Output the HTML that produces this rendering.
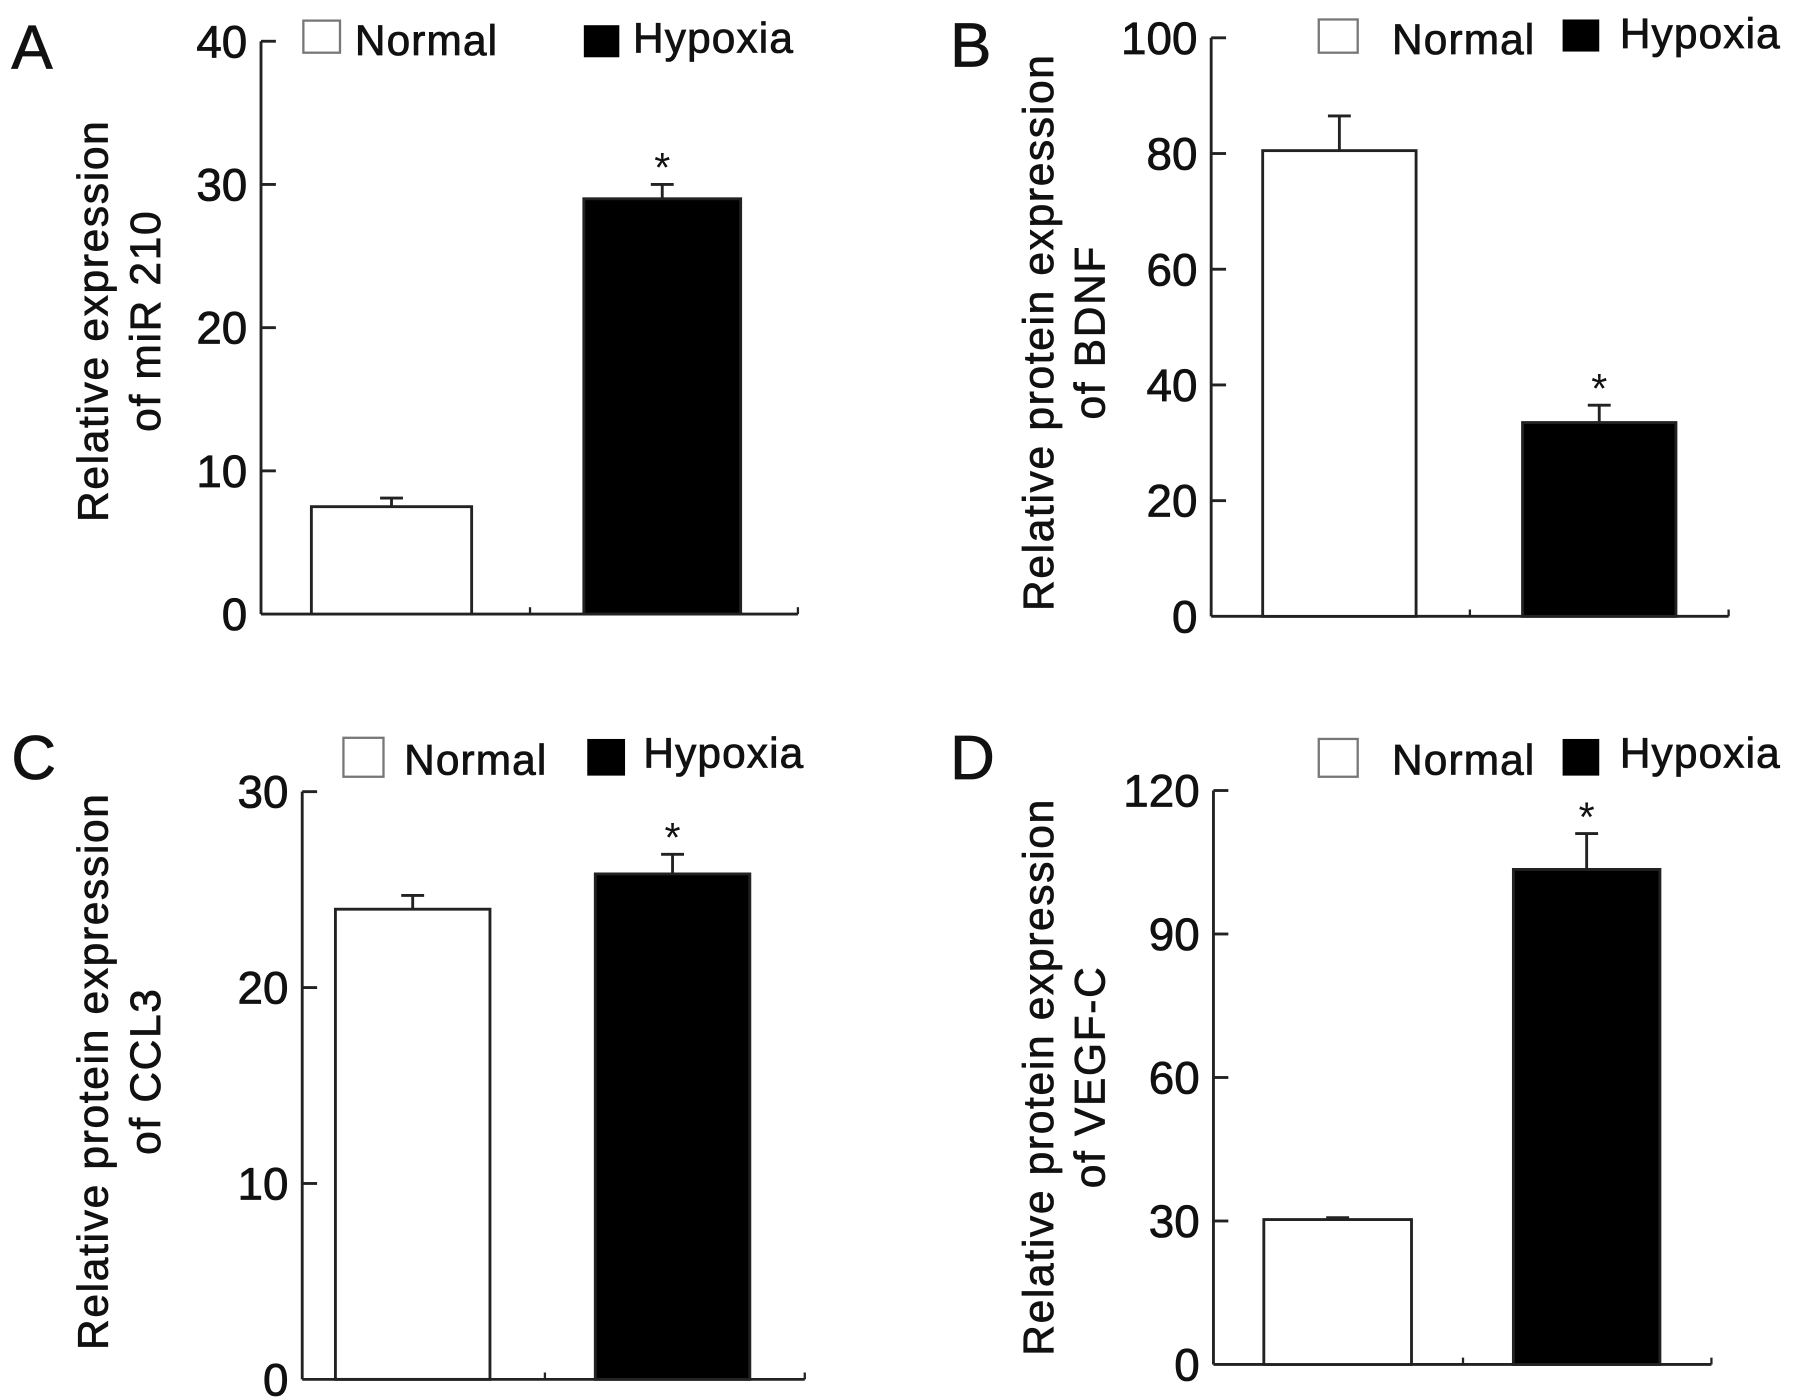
<!DOCTYPE html>
<html><head><meta charset="utf-8"><style>
html,body{margin:0;padding:0;background:#fff}
svg{display:block}
text{font-family:"Liberation Sans",Arial,sans-serif;fill:#111}
.th{stroke:#111;stroke-width:0.7px}
</style></head><body>
<svg id="fig" width="1795" height="1400" viewBox="0 0 1568 1222" preserveAspectRatio="none" xmlns="http://www.w3.org/2000/svg"></svg>
<script>
// Panel data
const groups = ["Normal", "Hypoxia"];
const valuesA = [7.5, 29];
const errorsA = [0.6, 1.0];
const ticksA = [0, 10, 20, 30, 40];
const valuesB = [80.5, 33.5];
const errorsB = [6, 3];
const ticksB = [0, 20, 40, 60, 80, 100];
const valuesC = [24, 25.8];
const errorsC = [0.7, 1.0];
const ticksC = [0, 10, 20, 30];
const valuesD = [30.3, 103.5];
const errorsD = [0.4, 7.5];
const ticksD = [0, 30, 60, 90, 120];
const sigA = [false, true], sigB = [false, true], sigC = [false, true], sigD = [false, true];

const NS = "http://www.w3.org/2000/svg";
const svg = document.getElementById("fig");
function mk(tag, attrs, parent, text) {
  const e = document.createElementNS(NS, tag);
  for (const k in attrs) e.setAttribute(k, attrs[k]);
  if (text !== undefined) e.textContent = text;
  (parent || svg).appendChild(e);
  return e;
}

const panels = [
  {id:"a", letter:"A", lx:10, ly:60, ax:228, x1:697, mid:463, top:36, bot:536, max:40, vals:valuesA, errs:errorsA, ticks:ticksA, sig:sigA,
   bars:[[272,412],[510,647]], t1x:84, t2x:130, tcy:280, title1:"Relative expression", title2:"of miR 210",
   leg:{wb:[265,18,32,28], nx:310, ny:48, bb:[510,22,31,28], hx:553, hy:46}},
  {id:"b", letter:"B", lx:830, ly:58, ax:1058, x1:1510, mid:1284, top:33, bot:538, max:100, vals:valuesB, errs:errorsB, ticks:ticksB, sig:sigB,
   bars:[[1103,1237],[1330,1464]], t1x:910, t2x:955, tcy:290, title1:"Relative  protein expression", title2:"of BDNF",
   leg:{wb:[1152,17,34,29], nx:1216, ny:47, bb:[1365,17,32,28], hx:1415, hy:42}},
  {id:"c", letter:"C", lx:10, ly:680, ax:264, x1:703, mid:476, top:691, bot:1204, max:30, vals:valuesC, errs:errorsC, ticks:ticksC, sig:sigC,
   bars:[[293,428],[520,655]], t1x:84, t2x:130, tcy:935, title1:"Relative  protein expression", title2:"of CCL3",
   leg:{wb:[300,644,35,34], nx:353, ny:676, bb:[513,645,33,32], hx:562, hy:670}},
  {id:"d", letter:"D", lx:830, ly:680, ax:1060, x1:1495, mid:1278, top:690, bot:1191, max:120, vals:valuesD, errs:errorsD, ticks:ticksD, sig:sigD,
   bars:[[1104,1233],[1322,1450]], t1x:910, t2x:955, tcy:940, title1:"Relative  protein expression", title2:"of VEGF-C",
   leg:{wb:[1152,645,34,33], nx:1216, ny:676, bb:[1365,645,32,32], hx:1415, hy:670}}
];

panels.forEach(p => {
  const g = mk("g", {});
  
  
  const y = v => p.bot - (v / p.max) * (p.bot - p.top);

  const L = mk("text", {x:p.lx, y:p.ly, "font-size":54, "class":"th"}, g, p.letter);
  
  

  const ya = mk("line", {x1:p.ax, y1:p.top, x2:p.ax, y2:p.bot, stroke:"#222", "stroke-width":2.5}, g);
  
  
  p.ticks.forEach(t => {
    const ty = y(t);
    if (t !== 0) {
      const tk = mk("line", {x1:p.ax, y1:ty, x2:p.ax + 13, y2:ty, stroke:"#222", "stroke-width":2.5}, g);
      
      
    }
    const tl = mk("text", {x:p.ax - 12, y:ty + 14, "font-size":40, "text-anchor":"end", "class":"th"}, g, String(t));
    
    
  });
  const xa = mk("line", {x1:p.ax, y1:p.bot, x2:p.x1, y2:p.bot, stroke:"#222", "stroke-width":2.5}, g);
  
  
  [p.mid, p.x1].forEach(xx => {
    const tk = mk("line", {x1:xx, y1:p.bot, x2:xx, y2:p.bot - 6, stroke:"#222", "stroke-width":2}, g);
    
    
  });

  p.vals.forEach((v, i) => {
    const [bx0, bx1] = p.bars[i];
    const cx = (bx0 + bx1) / 2;
    const top = y(v), et = y(v + p.errs[i]);
    const eb = mk("line", {x1:cx, y1:top, x2:cx, y2:et, stroke:"#222", "stroke-width":2.5}, g);
    
    
    const ec = mk("line", {x1:cx - 10, y1:et, x2:cx + 10, y2:et, stroke:"#222", "stroke-width":2.5}, g);
    
    
    const r = mk("rect", {x:bx0, y:top, width:bx1 - bx0, height:p.bot - top,
      fill: i === 0 ? "#fff" : "#000", stroke:"#222", "stroke-width":2.5}, g);
    
    
    if (p.sig[i]) {
      const s = mk("text", {x:cx, y:et - 2, "font-size":36, "text-anchor":"middle"}, g, "*");
      
      
    }
  });

  const tt = mk("text", {transform:`translate(${p.t1x},${p.tcy}) rotate(-90)`, "font-size":37, "letter-spacing":"1.5", "text-anchor":"middle", "dominant-baseline":"middle", "class":"th"}, g, p.title1);
  
  
  const tt2 = mk("text", {transform:`translate(${p.t2x},${p.tcy}) rotate(-90)`, "font-size":37, "letter-spacing":"1.5", "text-anchor":"middle", "dominant-baseline":"middle", "class":"th"}, g, p.title2);
  
  

  const lg = p.leg;
  const w = mk("rect", {x:lg.wb[0], y:lg.wb[1], width:lg.wb[2], height:lg.wb[3], fill:"#fff", stroke:"#777", "stroke-width":2}, g);
  
  
  const nt = mk("text", {x:lg.nx, y:lg.ny, "font-size":37, "letter-spacing":"1", "class":"th"}, g, "Normal");
  
  
  const b = mk("rect", {x:lg.bb[0], y:lg.bb[1], width:lg.bb[2], height:lg.bb[3], fill:"#000"}, g);
  
  
  const ht = mk("text", {x:lg.hx, y:lg.hy, "font-size":37, "letter-spacing":"1", "class":"th"}, g, "Hypoxia");
  
  
});
</script>
</body></html>
